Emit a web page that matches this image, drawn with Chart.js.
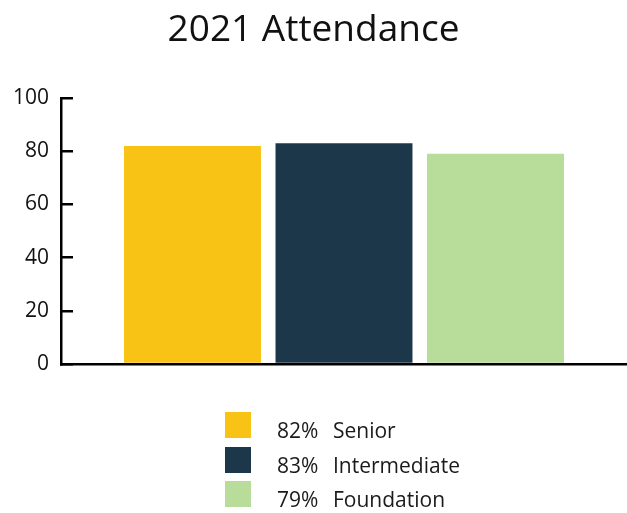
<!DOCTYPE html>
<html>
<head>
<meta charset="utf-8">
<title>2021 Attendance</title>
<script src="https://cdn.jsdelivr.net/npm/chart.js@4/dist/chart.umd.min.js"></script>
<style>
  html, body { margin: 0; padding: 0; background: #fff; overflow: hidden; }
  #wrap { position: relative; width: 627px; height: 513px; overflow: hidden; }
  #attendance { display: block; }
  #legend {
    position: absolute; left: 225px; top: 412px;
    margin: 0; padding: 0; list-style: none;
    font-family: "Open Sans", sans-serif; font-size: 21px; color: #1a1a1a;
  }
  #legend li { display: flex; align-items: center; height: 26px; margin-bottom: 8.5px; }
  #legend li:last-child { margin-bottom: 0; }
  #legend .swatch { width: 26px; height: 26px; margin-right: 26px; flex: none; }
  #legend .txt { position: relative; top: 5px; display: flex; white-space: nowrap; }
  #legend .pct { width: 56px; }
</style>
</head>
<body>
<div id="wrap">
  <canvas id="attendance" width="627" height="513"></canvas>
  <ul id="legend"></ul>
</div>
<script>
// ── Data ──────────────────────────────────────────────────────────────────────

const CATEGORIES = ["Senior", "Intermediate", "Foundation"];
const ATTENDANCE = [82, 83, 79];
const BAR_COLORS = ["#f9c315", "#1c3749", "#b8dc9a"];
const Y_TICKS    = [0, 20, 40, 60, 80, 100];

const INK = "#000";

// ── Legend (HTML, stacked) ────────────────────────────────────────────────────

function renderLegend() {
  const ul = document.getElementById("legend");
  CATEGORIES.forEach((name, i) => {
    const li = document.createElement("li");
    li.innerHTML =
      `<span class="swatch" style="background:${BAR_COLORS[i]}"></span>` +
      `<span class="txt"><span class="pct">${ATTENDANCE[i]}%</span><span>${name}</span></span>`;
    ul.appendChild(li);
  });
}

// ── Chart ─────────────────────────────────────────────────────────────────────

// bars sit on a linear x axis at 1, 2, 3 so the axis line can run past them
const points = ATTENDANCE.map((v, i) => ({ x: i + 1, y: v }));

new Chart(document.getElementById("attendance"), {
  type: "bar",
  data: {
    datasets: [{
      label: "Attendance",
      data: points,
      backgroundColor: BAR_COLORS,
      borderWidth: 0,
      barPercentage: 0.904,
      categoryPercentage: 1,
    }],
  },
  options: {
    responsive: false,
    animation: false,
    layout: { padding: { left: 0, right: 0, top: 0, bottom: 149 } },
    plugins: {
      legend: { display: false },
      tooltip: { enabled: false },
      title: {
        display: true,
        text: "2021 Attendance",
        color: "#111",
        font: { family: "'Open Sans', sans-serif", size: 37, weight: "normal", lineHeight: 1.2 },
        padding: { top: 8, bottom: 45.6 },
      },
    },
    scales: {
      x: {
        type: "linear",
        min: 0.132,
        max: 3.868,
        offset: false,
        afterBuildTicks: s => { s.ticks = CATEGORIES.map((_, i) => ({ value: i + 1 })); },
        afterFit: s => { s.height = 0; },
        ticks: { display: false },
        grid: { drawOnChartArea: false, drawTicks: false },
        border: { display: true, color: INK, width: 2.5 },
      },
      y: {
        min: 0,
        max: 100,
        afterBuildTicks: s => { s.ticks = Y_TICKS.map(v => ({ value: v })); },
        afterFit: s => { s.width = 61; },
        ticks: {
          color: "#111",
          padding: 24,
          font: { family: "'Open Sans', sans-serif", size: 21 },
        },
        // negative length turns the tick marks inward, right of the axis line
        grid: { drawOnChartArea: false, tickLength: -12, color: INK, lineWidth: 2.5 },
        border: { display: true, color: INK, width: 2.5 },
      },
    },
  },
});

renderLegend();
</script>
</body>
</html>
